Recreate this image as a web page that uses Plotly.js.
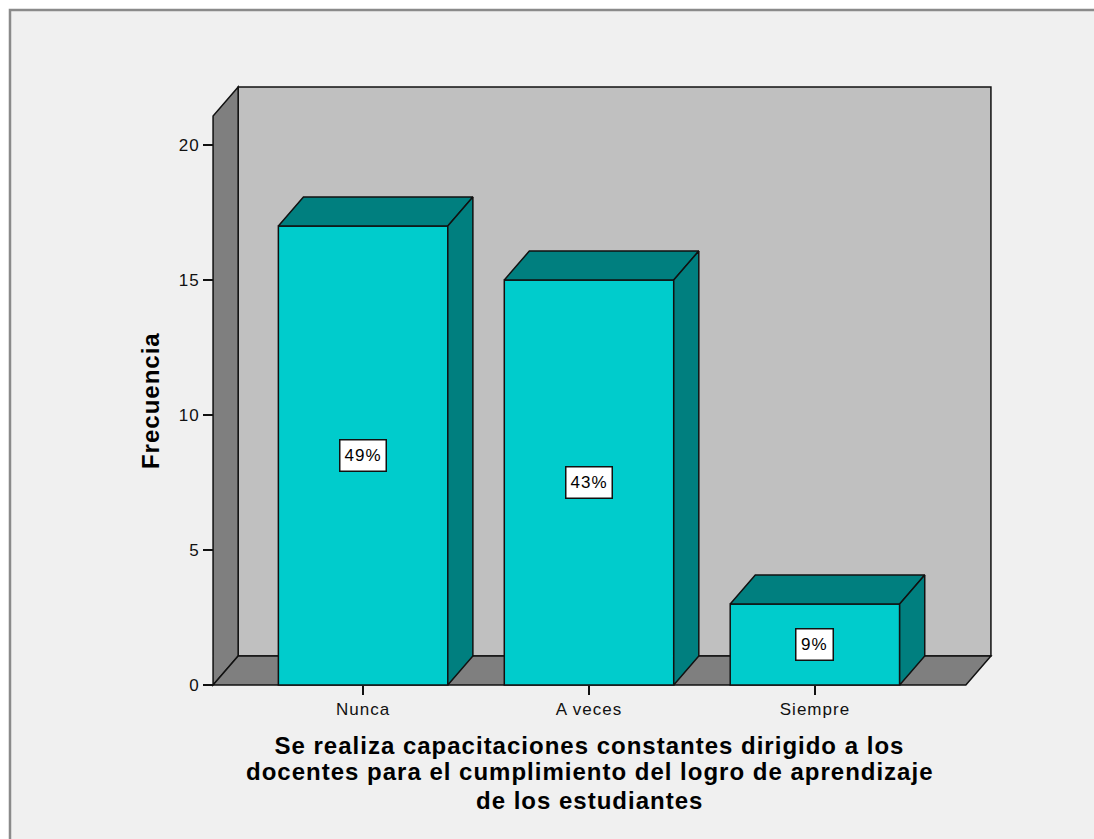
<!DOCTYPE html>
<html>
<head>
<meta charset="utf-8">
<script src="https://cdn.plot.ly/plotly-3.0.1.min.js"></script>
<style>
  html, body { margin: 0; padding: 0; background: #ffffff; }
  #chart { width: 1094px; height: 839px; }
  .main-svg text { letter-spacing: 1px; }
</style>
</head>
<body>
<div id="chart"></div>
<script>
// Frequencies of answers to the survey item
const categories = ['Nunca', 'A veces', 'Siempre'];
const frequencies = [17, 15, 3];
const yTickValues = [0, 5, 10, 15, 20];
const titleLines = [
  'Se realiza capacitaciones constantes dirigido a los',
  'docentes para el cumplimiento del logro de aprendizaje',
  'de los estudiantes'
];

// Percent labels derived from the frequencies
const total = frequencies.reduce((a, b) => a + b, 0);
const percentLabels = frequencies.map(f => Math.round(f / total * 100) + '%');

// 3D box geometry, in axis units
const BAR_W = 0.75;        // width of each bar front face
const DEPTH_X = 0.111;     // horizontal depth offset
const DEPTH_Y = 1.074;     // vertical depth offset
const WALL_LEFT = -0.664;  // left edge of the front plane
const WALL_RIGHT = 2.668;  // right edge of the front plane
const WALL_TOP = 21.07;    // top of the front plane

const FRONT = '#00CCCC', SHADE = '#007F7F';
const WALL = '#C0C0C0', SIDEWALL = '#7F7F7F';
const EDGE = { color: '#111111', width: 1.5 };

const xPos = categories.map((c, i) => i);

// Top and right faces of each bar as closed polygons
const topX = [], topY = [], sideX = [], sideY = [];
xPos.forEach((x, i) => {
  const v = frequencies[i];
  const l = x - BAR_W / 2, r = x + BAR_W / 2;
  topX.push(l, l + DEPTH_X, r + DEPTH_X, r, l, null);
  topY.push(v, v + DEPTH_Y, v + DEPTH_Y, v, v, null);
  sideX.push(r, r + DEPTH_X, r + DEPTH_X, r, r, null);
  sideY.push(0, DEPTH_Y, v + DEPTH_Y, v, 0, null);
});

const traces = [
  {
    type: 'bar', x: xPos, y: frequencies, width: BAR_W,
    marker: { color: FRONT, line: EDGE },
    hoverinfo: 'skip'
  },
  {
    type: 'scatter', mode: 'lines', x: topX, y: topY,
    fill: 'toself', fillcolor: SHADE, line: EDGE, hoverinfo: 'skip'
  },
  {
    type: 'scatter', mode: 'lines', x: sideX, y: sideY,
    fill: 'toself', fillcolor: SHADE, line: EDGE, hoverinfo: 'skip'
  }
];

function poly(xs, ys) {
  return 'M' + xs.map((x, i) => x + ',' + ys[i]).join('L') + 'Z';
}

const shapes = [
  // outer panel
  { type: 'rect', xref: 'paper', yref: 'paper', x0: -0.2532, x1: 1.3, y0: -0.5, y1: 1.1186,
    fillcolor: '#F0F0F0', line: { color: '#8A8A8A', width: 2.5 }, layer: 'below' },
  // back wall
  { type: 'path', xref: 'x', yref: 'y', layer: 'below', fillcolor: WALL, line: EDGE,
    path: poly([WALL_LEFT + DEPTH_X, WALL_RIGHT + DEPTH_X, WALL_RIGHT + DEPTH_X, WALL_LEFT + DEPTH_X],
               [DEPTH_Y, DEPTH_Y, WALL_TOP + DEPTH_Y, WALL_TOP + DEPTH_Y]) },
  // left wall
  { type: 'path', xref: 'x', yref: 'y', layer: 'below', fillcolor: SIDEWALL, line: EDGE,
    path: poly([WALL_LEFT, WALL_LEFT + DEPTH_X, WALL_LEFT + DEPTH_X, WALL_LEFT],
               [0, DEPTH_Y, WALL_TOP + DEPTH_Y, WALL_TOP]) },
  // floor
  { type: 'path', xref: 'x', yref: 'y', layer: 'below', fillcolor: SIDEWALL, line: EDGE,
    path: poly([WALL_LEFT, WALL_RIGHT, WALL_RIGHT + DEPTH_X, WALL_LEFT + DEPTH_X],
               [0, 0, DEPTH_Y, DEPTH_Y]) }
];

const FONT = 'Liberation Sans, Arial, sans-serif';

const annotations = xPos.map((x, i) => ({
  x: x, y: frequencies[i] / 2, xref: 'x', yref: 'y',
  text: percentLabels[i], showarrow: false,
  font: { family: FONT, size: 17, color: '#000' },
  bgcolor: '#FFFFFF', bordercolor: '#111111', borderwidth: 1.5, borderpad: 5.5,
  xanchor: 'center', yanchor: 'middle'
}));

const titleY = [-0.0923, -0.1367, -0.1829];
titleLines.forEach((t, i) => annotations.push({
  x: 1, xref: 'x', y: titleY[i], yref: 'paper', text: '<b>' + t + '</b>',
  showarrow: false, xanchor: 'center', yanchor: 'middle',
  font: { family: FONT, size: 24, color: '#000' }
}));

annotations.push({
  x: -0.0751, xref: 'paper', y: 0.476, yref: 'paper', text: '<b>Frecuencia</b>',
  textangle: -90, showarrow: false, xanchor: 'center', yanchor: 'middle',
  font: { family: FONT, size: 24, color: '#000' }
});

const layout = {
  width: 1094, height: 839, autosize: false,
  margin: { l: 209, r: 99, t: 82, b: 150, pad: 0 },
  paper_bgcolor: '#FFFFFF', plot_bgcolor: 'rgba(0,0,0,0)',
  showlegend: false, hovermode: false,
  xaxis: {
    range: [-0.682, 2.797], anchor: 'free', position: 0.00659,
    tickmode: 'array', tickvals: xPos, ticktext: categories,
    ticks: 'outside', ticklen: 9, tickwidth: 1.5, tickcolor: '#111',
    showgrid: false, zeroline: false, showline: false, automargin: false,
    tickfont: { family: FONT, size: 17, color: '#111' }
  },
  yaxis: {
    range: [-0.148, 22.333], anchor: 'free', position: 0.0051,
    tickmode: 'array', tickvals: yTickValues,
    ticks: 'outside', ticklen: 10, tickwidth: 1.5, tickcolor: '#111',
    showgrid: false, zeroline: false, showline: false, automargin: false,
    tickfont: { family: FONT, size: 17, color: '#111' }
  },
  shapes: shapes,
  annotations: annotations
};

Plotly.newPlot('chart', traces, layout, { staticPlot: true, displayModeBar: false });
</script>
</body>
</html>
